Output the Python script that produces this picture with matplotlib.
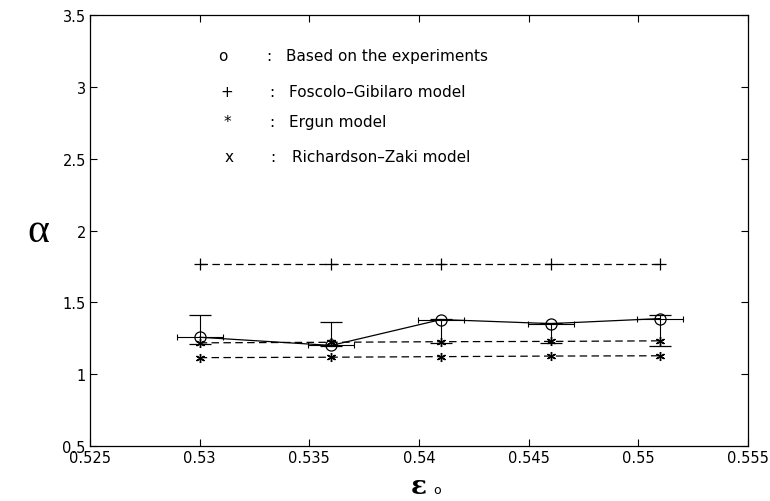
import matplotlib
matplotlib.use("Agg")
import matplotlib.pyplot as plt
import numpy as np

# ---- data ----
eps0 = [0.530, 0.536, 0.541, 0.546, 0.551]
alpha_exp = [1.257, 1.200, 1.380, 1.352, 1.387]
alpha_exp_low = [1.210, 1.195, 1.215, 1.215, 1.196]
alpha_exp_high = [1.410, 1.360, 1.385, 1.358, 1.415]
eps_err = [0.00105, 0.00105, 0.00105, 0.00105, 0.00105]
alpha_fg = [1.764, 1.764, 1.764, 1.764, 1.764]
alpha_ergun = [1.115, 1.118, 1.122, 1.126, 1.128]
alpha_rz = [1.218, 1.222, 1.226, 1.228, 1.232]

xticks = [0.525, 0.53, 0.535, 0.54, 0.545, 0.55, 0.555]
xticklabels = ['0.525', '0.53', '0.535', '0.54', '0.545', '0.55', '0.555']
yticks = [0.5, 1, 1.5, 2, 2.5, 3, 3.5]
yticklabels = ['0.5', '1', '1.5', '2', '2.5', '3', '3.5']

legend_symbols = ['o', '+', '*', 'x']
legend_labels = ['Based on the experiments', 'Foscolo\u2013Gibilaro model',
                 'Ergun model', 'Richardson\u2013Zaki model']

plt.rcParams['font.family'] = ['DejaVu Sans']

fig = plt.figure(figsize=(7.7, 5.02), dpi=100)
ax = fig.add_axes([90/770, 55/502, 658/770, 431/502])

dash = (0, (6, 3.5))
lw = 0.9

# model lines
ax.plot(eps0, alpha_fg, color='black', lw=lw, linestyle=dash,
        marker='+', markersize=8, markeredgewidth=0.9)
ax.plot(eps0, alpha_ergun, color='black', lw=lw, linestyle=dash,
        marker=(6, 2, 0), markersize=6.5, markeredgewidth=1.0)
ax.plot(eps0, alpha_rz, color='black', lw=lw, linestyle=dash,
        marker=(6, 2, 0), markersize=6.5, markeredgewidth=1.0)

# experiments
e = np.array(alpha_exp)
yerr = [e - np.array(alpha_exp_low), np.array(alpha_exp_high) - e]
ax.errorbar(eps0, alpha_exp, yerr=yerr, fmt='none', ecolor='black',
            elinewidth=0.8, capsize=8, capthick=0.9)
ax.errorbar(eps0, alpha_exp, xerr=eps_err, fmt='none', ecolor='black',
            elinewidth=0.8, capsize=2, capthick=0.8)
ax.plot(eps0, alpha_exp, color='black', lw=lw, linestyle='-',
        marker='o', markersize=8, markerfacecolor='none',
        markeredgewidth=0.9)

ax.set_xlim(0.525, 0.555)
ax.set_ylim(0.5, 3.5)
ax.set_xticks(xticks)
ax.set_xticklabels(xticklabels)
ax.set_yticks(yticks)
ax.set_yticklabels(yticklabels)
ax.tick_params(direction='in', length=5, width=0.8, top=True, right=True,
               labelsize=10.5, pad=3)
for s in ax.spines.values():
    s.set_linewidth(0.9)

# legend as text block
leg_y = [3.22, 2.965, 2.757, 2.514]
sym_x = [0.53105, 0.53123, 0.53125, 0.53132]
col_x = [0.53314, 0.53327, 0.53327, 0.53332]
txt_x = [0.53395, 0.53409, 0.53409, 0.53423]
for sym, lab, y, sx, cx, tx in zip(legend_symbols, legend_labels, leg_y,
                                   sym_x, col_x, txt_x):
    ax.text(sx, y, sym, ha='center', va='center', fontsize=11)
    ax.text(cx, y, ':', ha='center', va='center', fontsize=11)
    ax.text(tx, y, lab, ha='left', va='center', fontsize=11)

fig.text(38/770, 1 - 232/502, '\u03b1', family='Liberation Serif',
         fontsize=30, ha='center', va='center')
fig.text(419/770, 1 - 494/502, '\u03b5', family='DejaVu Serif',
         fontsize=19, fontweight='bold', ha='center', va='baseline')
fig.text(437/770, 1 - 494/502, 'o', fontsize=9, ha='center',
         va='baseline')

fig.savefig('out.png', dpi=100)
